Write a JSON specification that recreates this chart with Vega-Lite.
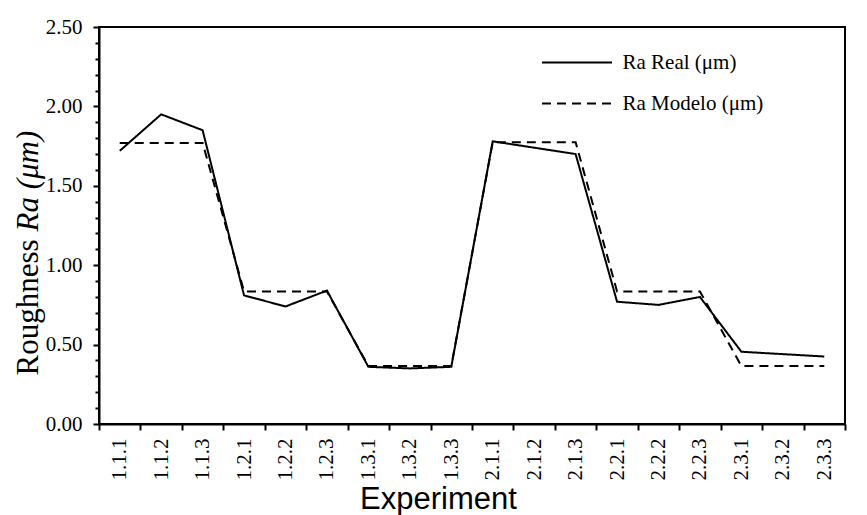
{
  "$schema": "https://vega.github.io/schema/vega-lite/v6.json",
  "width": 746,
  "height": 397,
  "autosize": {"type": "none"},
  "padding": {"left": 99, "top": 27, "right": 22, "bottom": 91},
  "background": "white",
  "config": {
    "view": {"stroke": "black", "strokeWidth": 2},
    "axis": {"domainColor": "black", "domainWidth": 2, "tickColor": "black", "tickWidth": 2, "labelColor": "black", "titleColor": "black", "grid": false}
  },
  "data": {
    "values": [
      {"exp": "1.1.1", "series": "Ra Real (μm)", "value": 1.72},
      {"exp": "1.1.2", "series": "Ra Real (μm)", "value": 1.95},
      {"exp": "1.1.3", "series": "Ra Real (μm)", "value": 1.85},
      {"exp": "1.2.1", "series": "Ra Real (μm)", "value": 0.81},
      {"exp": "1.2.2", "series": "Ra Real (μm)", "value": 0.74},
      {"exp": "1.2.3", "series": "Ra Real (μm)", "value": 0.84},
      {"exp": "1.3.1", "series": "Ra Real (μm)", "value": 0.36},
      {"exp": "1.3.2", "series": "Ra Real (μm)", "value": 0.35},
      {"exp": "1.3.3", "series": "Ra Real (μm)", "value": 0.36},
      {"exp": "2.1.1", "series": "Ra Real (μm)", "value": 1.78},
      {"exp": "2.1.2", "series": "Ra Real (μm)", "value": 1.74},
      {"exp": "2.1.3", "series": "Ra Real (μm)", "value": 1.70},
      {"exp": "2.2.1", "series": "Ra Real (μm)", "value": 0.77},
      {"exp": "2.2.2", "series": "Ra Real (μm)", "value": 0.75},
      {"exp": "2.2.3", "series": "Ra Real (μm)", "value": 0.80},
      {"exp": "2.3.1", "series": "Ra Real (μm)", "value": 0.455},
      {"exp": "2.3.2", "series": "Ra Real (μm)", "value": 0.44},
      {"exp": "2.3.3", "series": "Ra Real (μm)", "value": 0.425},
      {"exp": "1.1.1", "series": "Ra Modelo (μm)", "value": 1.77},
      {"exp": "1.1.2", "series": "Ra Modelo (μm)", "value": 1.77},
      {"exp": "1.1.3", "series": "Ra Modelo (μm)", "value": 1.77},
      {"exp": "1.2.1", "series": "Ra Modelo (μm)", "value": 0.835},
      {"exp": "1.2.2", "series": "Ra Modelo (μm)", "value": 0.835},
      {"exp": "1.2.3", "series": "Ra Modelo (μm)", "value": 0.835},
      {"exp": "1.3.1", "series": "Ra Modelo (μm)", "value": 0.365},
      {"exp": "1.3.2", "series": "Ra Modelo (μm)", "value": 0.365},
      {"exp": "1.3.3", "series": "Ra Modelo (μm)", "value": 0.365},
      {"exp": "2.1.1", "series": "Ra Modelo (μm)", "value": 1.775},
      {"exp": "2.1.2", "series": "Ra Modelo (μm)", "value": 1.775},
      {"exp": "2.1.3", "series": "Ra Modelo (μm)", "value": 1.775},
      {"exp": "2.2.1", "series": "Ra Modelo (μm)", "value": 0.835},
      {"exp": "2.2.2", "series": "Ra Modelo (μm)", "value": 0.835},
      {"exp": "2.2.3", "series": "Ra Modelo (μm)", "value": 0.835},
      {"exp": "2.3.1", "series": "Ra Modelo (μm)", "value": 0.365},
      {"exp": "2.3.2", "series": "Ra Modelo (μm)", "value": 0.365},
      {"exp": "2.3.3", "series": "Ra Modelo (μm)", "value": 0.365}
    ]
  },
  "encoding": {
    "x": {
      "field": "exp", "type": "ordinal", "sort": null,
      "scale": {"type": "band", "paddingInner": 0, "paddingOuter": 0},
      "axis": {
        "tickBand": "extent", "tickSize": 6, "labelAngle": -90, "labelPadding": 8,
        "domainColor": "black", "domainWidth": 2, "tickColor": "black", "tickWidth": 2,
        "labelFont": "Liberation Serif", "labelFontSize": 21, "labelColor": "black",
        "title": "Experiment", "titleFont": "Liberation Sans", "titleFontSize": 31, "titleFontWeight": "normal", "titleColor": "black",
        "titleX": 339, "titleY": 84, "titleBaseline": "alphabetic", "titleAlign": "center"
      }
    },
    "strokeDash": {
      "field": "series", "type": "nominal",
      "scale": {"domain": ["Ra Real (μm)", "Ra Modelo (μm)"], "range": [[1, 0], [9, 6]]},
      "legend": {
        "orient": "none", "legendX": 467.5, "legendY": 25, "title": null, "padding": 0,
        "symbolType": "M-5,0H5", "symbolSize": 196, "symbolStrokeWidth": 2, "symbolStrokeColor": "black", "symbolFillColor": "transparent",
        "labelOffset": 35, "rowPadding": 19, "labelFont": "Liberation Serif", "labelFontSize": 21, "labelColor": "black"
      }
    }
  },
  "layer": [
    {
      "transform": [{"filter": "datum.series === 'Ra Real (μm)'"}],
      "mark": {"type": "line", "color": "black", "strokeWidth": 2},
      "encoding": {
        "y": {
          "field": "value", "type": "quantitative",
          "scale": {"domain": [0, 2.5], "nice": false, "zero": true},
          "axis": {
            "orient": "left",
            "values": [0, 0.1, 0.2, 0.3, 0.4, 0.5, 0.6, 0.7, 0.8, 0.9, 1, 1.1, 1.2, 1.3, 1.4, 1.5, 1.6, 1.7, 1.8, 1.9, 2, 2.1, 2.2, 2.3, 2.4, 2.5],
            "labelExpr": "round(datum.value*10) % 5 === 0 ? format(datum.value, '.2f') : ''",
            "tickSize": {"condition": {"test": "round(datum.value*10) % 5 === 0", "value": 6}, "value": 4},
            "domainColor": "black", "domainWidth": 2, "tickColor": "black", "tickWidth": 2,
            "labelPadding": 11, "labelFont": "Liberation Serif", "labelFontSize": 21, "labelColor": "black",
            "title": "Roughness", "titleFont": "Liberation Serif", "titleFontSize": 31, "titleFontWeight": "normal", "titleColor": "black",
            "titleAngle": 270, "titleAlign": "left", "titleBaseline": "alphabetic", "titleX": -62, "titleY": 348
          }
        }
      }
    },
    {
      "transform": [{"filter": "datum.series === 'Ra Modelo (μm)'"}],
      "mark": {"type": "line", "color": "black", "strokeWidth": 2},
      "encoding": {
        "y": {
          "field": "value", "type": "quantitative",
          "scale": {"domain": [0, 2.5], "nice": false, "zero": true},
          "axis": {
            "orient": "left", "labels": false, "ticks": false, "domain": false,
            "title": "Ra (μm)", "titleFont": "Liberation Serif", "titleFontSize": 31, "titleFontWeight": "normal", "titleFontStyle": "italic", "titleColor": "black",
            "titleAngle": 270, "titleAlign": "left", "titleBaseline": "alphabetic", "titleX": -62, "titleY": 204
          }
        }
      }
    }
  ],
  "resolve": {"axis": {"y": "independent"}}
}
